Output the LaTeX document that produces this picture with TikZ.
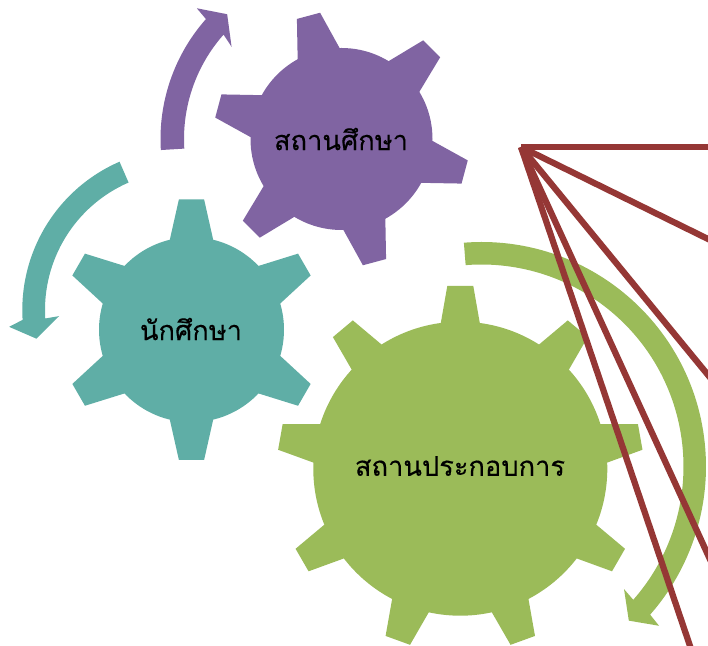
\documentclass[tikz,border=0pt]{standalone}
\usepackage{fontspec}
\newfontfamily\thaifont[Script=Thai,FakeBold=0.2]{Loma}
\definecolor{gearpurple}{HTML}{8064A2}
\definecolor{gearteal}{HTML}{5FAEA6}
\definecolor{geargreen}{HTML}{9BBB59}
\definecolor{spokered}{HTML}{953735}

% gear: colour, centre x, centre y, body radius, tip radius, tooth half widths, tooth angles
\newcommand{\gearshape}[8]{
  \fill[#1] (#2,#3) circle (#4);
  \foreach \toothangle in {#8}
    \fill[#1,shift={(#2,#3)},rotate=\toothangle] (0,0) -- ({#4*sqrt(1-(#6/#4)*(#6/#4))},#6) -- (#5,#7) -- (#5,-#7) -- ({#4*sqrt(1-(#6/#4)*(#6/#4))},-#6) -- cycle;
}
% curved arrow: colour, centre, outer radius, inner radius, tail angle, head angle, outer wing, inner wing, tip angle
\newcommand{\turnarrow}[9]{
  \fill[#1,shift={(#2)}] (#5:#3) arc[start angle=#5,end angle=#6,radius=#3]
    -- ({#7}:{#3+14}) -- ({#9}:{(#3+#4)/2}) -- ({#8}:{#4-14}) -- (#6:#4)
    arc[start angle=#6,end angle=#5,radius=#4] -- cycle;
}

\begin{document}
\begin{tikzpicture}[x=0.02cm,y=0.02cm,gear label/.style={font=\thaifont\fontsize{15.5}{18}\selectfont,text=black,inner sep=0pt},spoke/.style={draw=spokered,line width=0.125cm}]
\useasboundingbox (0,0) rectangle (708,646);
\clip (0,0) rectangle (708,646);

% gears
\gearshape{gearpurple}{341.5}{507}{91}{127.5}{21.7}{12}{105,45,-15,-75,-135,165}
\gearshape{gearteal}{191.5}{316.3}{92.5}{130.3}{21.7}{12.6}{90,30,-30,-90,-150,150}
\gearshape{geargreen}{460.3}{177.3}{147}{182.7}{19.5}{13}{90,50,10,-30,-70,-110,-150,170,130}

% arrows
\turnarrow{gearpurple}{341.5,507}{181}{157.5}{183.5}{138.5}{137.9}{140}{132.5}
\turnarrow{gearteal}{184,336}{161.7}{139}{113.5}{183.5}{185.5}{182.8}{191}
\turnarrow{geargreen}{481.5,179.5}{224.5}{202}{94.5}{-41.3}{-41.9}{-40.7}{-46.3}

\node[gear label] (studylabel) at (341,507) {สถานศึกษา};
\node[gear label] (studentlabel) at (191,317) {นักศึกษา};
\node[gear label] (worklabel) at (460,180) {สถานประกอบการ};

% lines from the corner
\coordinate (corner) at (521,499);
\coordinate (endone) at (730,499);
\coordinate (endtwo) at (730,396.2);
\coordinate (endthree) at (730,244.2);
\coordinate (endfour) at (730,43);
\coordinate (endfive) at (696.8,-20);
\foreach \lineend in {endone,endtwo,endthree,endfour,endfive}
  \draw[spoke] (corner) -- (\lineend);

\end{tikzpicture}
\end{document}
